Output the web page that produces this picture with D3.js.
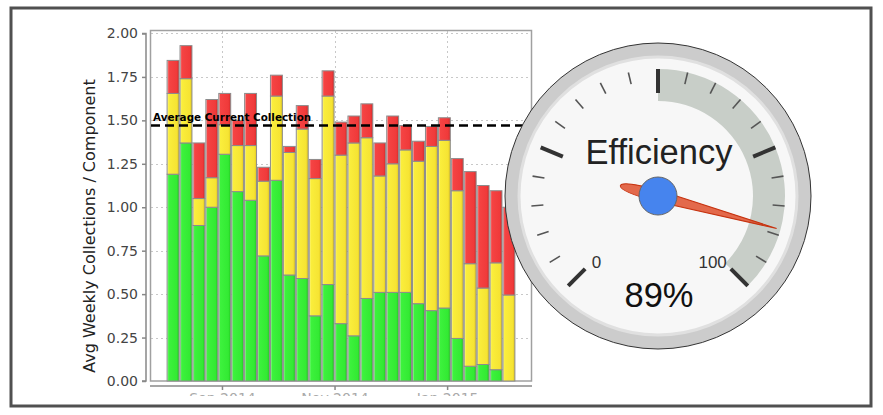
<!DOCTYPE html>
<html><head><meta charset="utf-8">
<script src="https://cdn.jsdelivr.net/npm/d3@7"></script>
<style>html,body{margin:0;padding:0;background:#fff;} svg{display:block;}</style>
</head><body>
<svg id="c" width="883" height="415"></svg>
<script>
// ---------- data ----------
const weeks = ["2014-08-02","2014-08-09","2014-08-16","2014-08-23","2014-08-30",
  "2014-09-06","2014-09-13","2014-09-20","2014-09-27","2014-10-04","2014-10-11",
  "2014-10-18","2014-10-25","2014-11-01","2014-11-08","2014-11-15","2014-11-22",
  "2014-11-29","2014-12-06","2014-12-13","2014-12-20","2014-12-27","2015-01-03",
  "2015-01-10","2015-01-17","2015-01-24","2015-01-31"];
const green  = [1.19,1.37,0.895,1.00,1.305,1.09,1.04,0.72,1.155,0.61,0.59,0.375,0.555,0.33,0.26,0.475,0.51,0.51,0.51,0.445,0.405,0.42,0.245,0.085,0.095,0.065,0];
const yellow = [0.465,0.37,0.155,0.17,0.17,0.265,0.315,0.43,0.485,0.705,0.86,0.79,1.085,0.97,1.11,0.925,0.67,0.74,0.82,0.82,0.945,0.965,0.85,0.59,0.44,0.615,0.495];
const red    = [0.19,0.19,0.32,0.45,0.18,0.145,0.30,0.08,0.12,0.035,0.135,0.11,0.145,0.19,0.155,0.195,0.19,0.275,0.14,0.115,0.115,0.13,0.185,0.53,0.59,0.415,0.505];
const seriesKeys = ["green","yellow","red"];
const averageValue = 1.47;
const averageLabel = "Average Current Collection";
const yTicks = [0,0.25,0.5,0.75,1.0,1.25,1.5,1.75,2.0];
const yTitle = "Avg Weekly Collections / Component";
const gaugeTitle = "Efficiency";
const gaugeValue = 89;
const gaugeMin = 0, gaugeMax = 100;
const gaugeBand = [50, 100];
const gaugeMajor = [0,25,50,75,100];
const gaugeLabels = [0, 100];

// ---------- setup ----------
const svg = d3.select("#c");
const defs = svg.append("defs");
svg.append("rect").attr("width",883).attr("height",415).attr("fill","#fff");

const colors = {
  green:  ["#b8ffb8","#3df23d","#33ea33","#22c822"],
  yellow: ["#fffac0","#faee3c","#f6e433","#e2c820"],
  red:    ["#ffd0d0","#f54444","#f03a3a","#d42a2a"]
};
for (const k of seriesKeys) {
  const g = defs.append("linearGradient").attr("id","g-"+k).attr("x1","0").attr("x2","1").attr("y1","0").attr("y2","0");
  const c = colors[k];
  g.append("stop").attr("offset","0").attr("stop-color",c[0]);
  g.append("stop").attr("offset","0.14").attr("stop-color",c[1]);
  g.append("stop").attr("offset","0.8").attr("stop-color",c[2]);
  g.append("stop").attr("offset","1").attr("stop-color",c[3]);
}
defs.append("clipPath").attr("id","xclip").append("rect").attr("x",0).attr("y",0).attr("width",883).attr("height",396);

const parse = d3.utcParse("%Y-%m-%d");
const rows = weeks.map((w,i)=>({date:parse(w), green:green[i], yellow:yellow[i], red:red[i]}));

const x = d3.scaleUtc().domain([Date.UTC(2014,6,24), Date.UTC(2015,1,16)]).range([150, 532]);
const y = d3.scaleLinear().domain([0, 2.02]).range([381, 30]);

// grid
const xTickDates = x.ticks(d3.utcMonth.every(2));
const grid = svg.append("g").attr("stroke","#c8c8c8").attr("stroke-width",1).attr("stroke-dasharray","2,3");
grid.selectAll("line.h").data(yTicks.filter(t=>t>0)).join("line")
  .attr("x1",151).attr("x2",531).attr("y1",d=>Math.round(y(d))+0.5).attr("y2",d=>Math.round(y(d))+0.5);
grid.selectAll("line.v").data(xTickDates).join("line")
  .attr("x1",d=>Math.round(x(d))+0.5).attr("x2",d=>Math.round(x(d))+0.5).attr("y1",31).attr("y2",381);

// plot border
svg.append("rect").attr("x",150.5).attr("y",30.5).attr("width",381).attr("height",350.5)
  .attr("fill","none").attr("stroke","#a0a0a0").attr("stroke-width",1.5);

// bars
const stack = d3.stack().keys(seriesKeys)(rows);
const day = 86400000;
svg.append("g").selectAll("g").data(stack).join("g")
  .attr("fill",d=>"url(#g-"+d.key+")")
  .selectAll("rect").data(d=>d.filter(s=>s[1]-s[0]>0)).join("rect")
  .attr("x",d=>x(d.data.date)+0.5)
  .attr("width",d=>x(new Date(+d.data.date+7*day))-x(d.data.date)-1)
  .attr("y",d=>y(d[1]))
  .attr("height",d=>y(d[0])-y(d[1]))
  .attr("stroke","#8c8c8c").attr("stroke-width",1);

// average line
svg.append("line").attr("x1",151).attr("x2",531).attr("y1",y(averageValue)).attr("y2",y(averageValue))
  .attr("stroke","#000").attr("stroke-width",2.6).attr("stroke-dasharray","9,5");
svg.append("text").attr("x",153).attr("y",y(averageValue)-5)
  .attr("font-family","DejaVu Sans").attr("font-weight","bold").attr("font-size",10.4)
  .attr("fill","#000").text(averageLabel);

// y axis
const yAxis = svg.append("g").attr("transform","translate(146,0)")
  .call(d3.axisLeft(y).tickValues(yTicks).tickFormat(d3.format(".2f")).tickSize(4).tickPadding(4));
yAxis.select(".domain").attr("stroke","#888").attr("stroke-width",1.5).attr("d","M-4,"+y(2)+"H0V"+y(0)+"H-4");
yAxis.selectAll(".tick line").attr("stroke","#888").attr("stroke-width",1.5);
yAxis.selectAll("text").attr("font-family","DejaVu Sans").attr("font-size",14).attr("fill","#444");

// x axis (labels clipped by the frame, only their tops visible)
const xWrap = svg.append("g").attr("clip-path","url(#xclip)");
const xAxis = xWrap.append("g").attr("transform","translate(0,386)")
  .call(d3.axisBottom(x).tickValues(xTickDates).tickFormat(d3.utcFormat("%b %Y")).tickSize(4).tickPadding(3));
xAxis.select(".domain").attr("stroke","#888").attr("stroke-width",1.5).attr("d","M150,0H532");
xAxis.selectAll(".tick line").attr("stroke","#888").attr("stroke-width",1.5);
xAxis.selectAll("text").attr("font-family","DejaVu Sans").attr("font-size",14).attr("fill","#aaa");

// y title
svg.append("text").attr("transform","translate(95,226) rotate(-90)").attr("text-anchor","middle")
  .attr("font-family","DejaVu Sans").attr("font-size",16).attr("fill","#222").text(yTitle);

// frame
svg.append("rect").attr("x",11).attr("y",8).attr("width",860).attr("height",398)
  .attr("fill","none").attr("stroke","#505050").attr("stroke-width",3);

// ---------- gauge ----------
const cx = 658, cy = 196, R = 153;
const ang = d3.scaleLinear().domain([gaugeMin, gaugeMax]).range([-135, 135]);
const rad = a => a*Math.PI/180;
const pol = (r,a)=>[cx + r*Math.sin(rad(a)), cy - r*Math.cos(rad(a))];
const gg = svg.append("g");
gg.append("circle").attr("cx",cx).attr("cy",cy).attr("r",R).attr("fill","#cccccc").attr("stroke","#333").attr("stroke-width",1);
gg.append("circle").attr("cx",cx).attr("cy",cy).attr("r",139).attr("fill","#f7f7f7").attr("stroke","#e0e0e0").attr("stroke-width",3);
gg.append("path").attr("transform",`translate(${cx},${cy})`)
  .attr("d", d3.arc().innerRadius(95).outerRadius(127).startAngle(rad(ang(gaugeBand[0]))).endAngle(rad(ang(gaugeBand[1])))())
  .attr("fill","#c8cec8");
const minorVals = d3.range(gaugeMin, gaugeMax+0.001, 5).filter(v=>!gaugeMajor.includes(v));
gg.selectAll("line.mi").data(minorVals).join("line")
  .attr("x1",d=>pol(115,ang(d))[0]).attr("y1",d=>pol(115,ang(d))[1])
  .attr("x2",d=>pol(127,ang(d))[0]).attr("y2",d=>pol(127,ang(d))[1])
  .attr("stroke","#555").attr("stroke-width",1.6);
gg.selectAll("line.ma").data(gaugeMajor).join("line")
  .attr("x1",d=>pol(103,ang(d))[0]).attr("y1",d=>pol(103,ang(d))[1])
  .attr("x2",d=>pol(127,ang(d))[0]).attr("y2",d=>pol(127,ang(d))[1])
  .attr("stroke","#333").attr("stroke-width",4);
gg.selectAll("text.lab").data(gaugeLabels).join("text")
  .attr("x",(d,i)=>pol(90,ang(d))[0] + (i===0?2:-9)).attr("y",d=>pol(90,ang(d))[1]+8)
  .attr("text-anchor","middle").attr("font-family","Liberation Sans, Arial").attr("font-size",17).attr("fill","#333")
  .text(d=>d);
gg.append("text").attr("x",cx+1).attr("y",164).attr("text-anchor","middle")
  .attr("font-family","Liberation Sans, Arial").attr("font-size",34.5).attr("fill","#222").text(gaugeTitle);
gg.append("text").attr("x",cx+1).attr("y",306.5).attr("text-anchor","middle")
  .attr("font-family","Liberation Sans, Arial").attr("font-size",34.5).attr("fill","#111").text(gaugeValue+"%");
// needle
gg.append("path").attr("transform",`translate(${cx},${cy}) rotate(${ang(gaugeValue)})`)
  .attr("d","M0,-123 L5.8,0 C5.8,20 4.5,39 0,39 C-4.5,39 -5.8,20 -5.8,0 Z")
  .attr("fill","#dc3912").attr("fill-opacity",0.75).attr("stroke","#c63310").attr("stroke-width",1);
gg.append("circle").attr("cx",cx).attr("cy",cy).attr("r",19).attr("fill","#4684ee").attr("stroke","#666").attr("stroke-width",1);
</script>
</body></html>
